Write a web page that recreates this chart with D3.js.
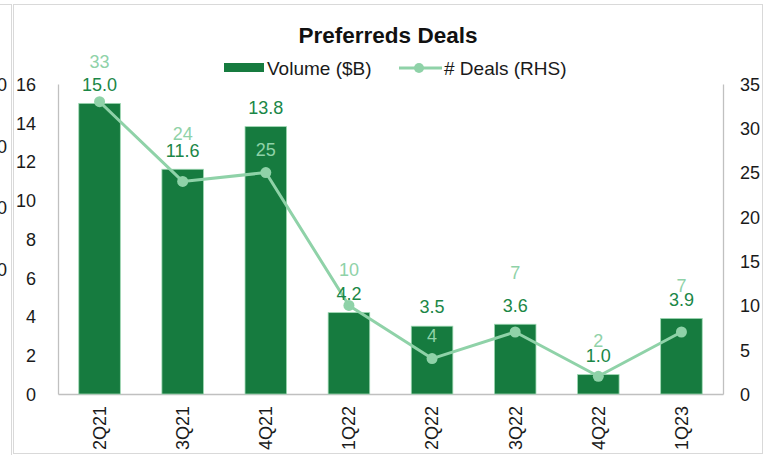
<!DOCTYPE html>
<html>
<head>
<meta charset="utf-8">
<script src="https://cdn.jsdelivr.net/npm/d3@7"></script>
<style>
  html, body { margin: 0; padding: 0; background: #fff; }
  svg { display: block; font-family: "Liberation Sans", Arial, sans-serif; }
</style>
</head>
<body>
<div id="chart"></div>
<script>
// chart values
var quarters = ['2Q21', '3Q21', '4Q21', '1Q22', '2Q22', '3Q22', '4Q22', '1Q23']
var volume = [15.0, 11.6, 13.8, 4.2, 3.5, 3.6, 1.0, 3.9]
var deals = [33, 24, 25, 10, 4, 7, 2, 7]
var leftTicks = [0, 2, 4, 6, 8, 10, 12, 14, 16]
var rightTicks = [0, 5, 10, 15, 20, 25, 30, 35]

;(function() {
	var width = 773
	var height = 455
	var plot = { left: 58, right: 723, top: 84, bottom: 394 }

	var barColor = '#167b3f'
	var barLabelColor = '#1b8747'
	var lineColor = '#8fd2a8'
	var axisColor = '#c0c0c0'
	var textColor = '#1a1a1a'

	// how far each deal label sits above its point (hand placed in the original)
	var dealLift = [40, 48, 23, 36, 23, 59, 36, 46]

	var svg = d3.select('#chart').append('svg')
		.attr('width', width)
		.attr('height', height)

	// neighbouring frame, cut off at the left edge
	svg.append('line')
		.attr('x1', 0).attr('x2', 11)
		.attr('y1', 4.5).attr('y2', 4.5)
		.attr('stroke', '#d9d9d9')
	svg.append('line')
		.attr('x1', 11.5).attr('x2', 11.5)
		.attr('y1', 4).attr('y2', 455)
		.attr('stroke', '#d9d9d9')
	;[85, 146.5, 208, 269.5].forEach(function(y) {
		svg.append('text')
			.attr('x', 7).attr('y', y)
			.attr('dy', '0.35em')
			.attr('text-anchor', 'end')
			.attr('font-size', 18)
			.attr('fill', textColor)
			.text('0')
	})

	// chart frame
	svg.append('rect')
		.attr('x', 13.5).attr('y', 4.5)
		.attr('width', 749).attr('height', 449)
		.attr('fill', '#fff')
		.attr('stroke', '#d9d9d9')

	var x = d3.scaleBand()
		.domain(quarters)
		.range([plot.left, plot.right])
		.paddingInner(0.5)
		.paddingOuter(0.25)

	var yLeft = d3.scaleLinear().domain([0, 16]).range([plot.bottom, plot.top])
	var yRight = d3.scaleLinear().domain([0, 35]).range([plot.bottom, plot.top])

	// axes
	var leftAxis = svg.append('g')
		.attr('transform', 'translate(' + plot.left + ',0)')
		.call(d3.axisLeft(yLeft).tickValues(leftTicks).tickSize(0).tickPadding(22))
	var rightAxis = svg.append('g')
		.attr('transform', 'translate(' + plot.right + ',0)')
		.call(d3.axisRight(yRight).tickValues(rightTicks).tickSize(0).tickPadding(17))
	var bottomAxis = svg.append('g')
		.attr('transform', 'translate(0,' + plot.bottom + ')')
		.call(d3.axisBottom(x).tickSize(0))

	;[leftAxis, rightAxis, bottomAxis].forEach(function(a) {
		a.select('.domain').attr('stroke', axisColor).attr('stroke-width', 1.3)
		a.selectAll('text')
			.attr('font-size', 18)
			.attr('font-family', '"Liberation Sans", Arial, sans-serif')
			.attr('fill', textColor)
	})
	leftAxis.selectAll('text').attr('dy', '0.35em')
	rightAxis.selectAll('text').attr('dy', '0.35em')

	bottomAxis.selectAll('text')
		.attr('transform', 'rotate(-90)')
		.attr('text-anchor', 'end')
		.attr('x', -12)
		.attr('y', 0)
		.attr('dy', '0.35em')

	// bars
	svg.append('g').selectAll('rect')
		.data(volume)
		.enter().append('rect')
			.attr('x', function(d, i) { return x(quarters[i]) })
			.attr('width', x.bandwidth())
			.attr('y', function(d) { return yLeft(d) })
			.attr('height', function(d) { return plot.bottom - yLeft(d) })
			.attr('fill', barColor)
			.attr('stroke', '#9dd8b2')
			.attr('stroke-width', 0.8)

	function cx(i) { return x(quarters[i]) + x.bandwidth() / 2 }

	// deals line
	var line = d3.line()
		.x(function(d, i) { return cx(i) })
		.y(function(d) { return yRight(d) })

	svg.append('path')
		.datum(deals)
		.attr('d', line)
		.attr('fill', 'none')
		.attr('stroke', lineColor)
		.attr('stroke-width', 3)
		.attr('stroke-linejoin', 'round')

	svg.append('g').selectAll('circle')
		.data(deals)
		.enter().append('circle')
			.attr('cx', function(d, i) { return cx(i) })
			.attr('cy', function(d) { return yRight(d) })
			.attr('r', 5.5)
			.attr('fill', lineColor)

	// bar labels
	svg.append('g').selectAll('text')
		.data(volume)
		.enter().append('text')
			.attr('x', function(d, i) { return cx(i) })
			.attr('y', function(d) { return yLeft(d) - 19 })
			.attr('dy', '0.35em')
			.attr('text-anchor', 'middle')
			.attr('font-size', 18)
			.attr('fill', barLabelColor)
			.text(function(d) { return d.toFixed(1) })

	// deal labels
	svg.append('g').selectAll('text')
		.data(deals)
		.enter().append('text')
			.attr('x', function(d, i) { return cx(i) })
			.attr('y', function(d, i) { return yRight(d) - dealLift[i] })
			.attr('dy', '0.35em')
			.attr('text-anchor', 'middle')
			.attr('font-size', 18)
			.attr('fill', lineColor)
			.text(function(d) { return d })

	// title
	svg.append('text')
		.attr('x', 388).attr('y', 35)
		.attr('dy', '0.35em')
		.attr('text-anchor', 'middle')
		.attr('font-size', 22.5)
		.attr('font-weight', 'bold')
		.attr('fill', '#111')
		.text('Preferreds Deals')

	// legend
	var legend = svg.append('g')
	legend.append('rect')
		.attr('x', 224).attr('y', 63)
		.attr('width', 40).attr('height', 9)
		.attr('fill', barColor)
	legend.append('text')
		.attr('x', 267).attr('y', 68)
		.attr('dy', '0.35em')
		.attr('font-size', 19)
		.attr('fill', textColor)
		.text('Volume ($B)')
	legend.append('line')
		.attr('x1', 399).attr('x2', 442)
		.attr('y1', 68).attr('y2', 68)
		.attr('stroke', lineColor)
		.attr('stroke-width', 3)
	legend.append('circle')
		.attr('cx', 419).attr('cy', 68)
		.attr('r', 5)
		.attr('fill', lineColor)
	legend.append('text')
		.attr('x', 444).attr('y', 68)
		.attr('dy', '0.35em')
		.attr('font-size', 19)
		.attr('fill', textColor)
		.text('# Deals (RHS)')
})()
</script>
</body>
</html>
